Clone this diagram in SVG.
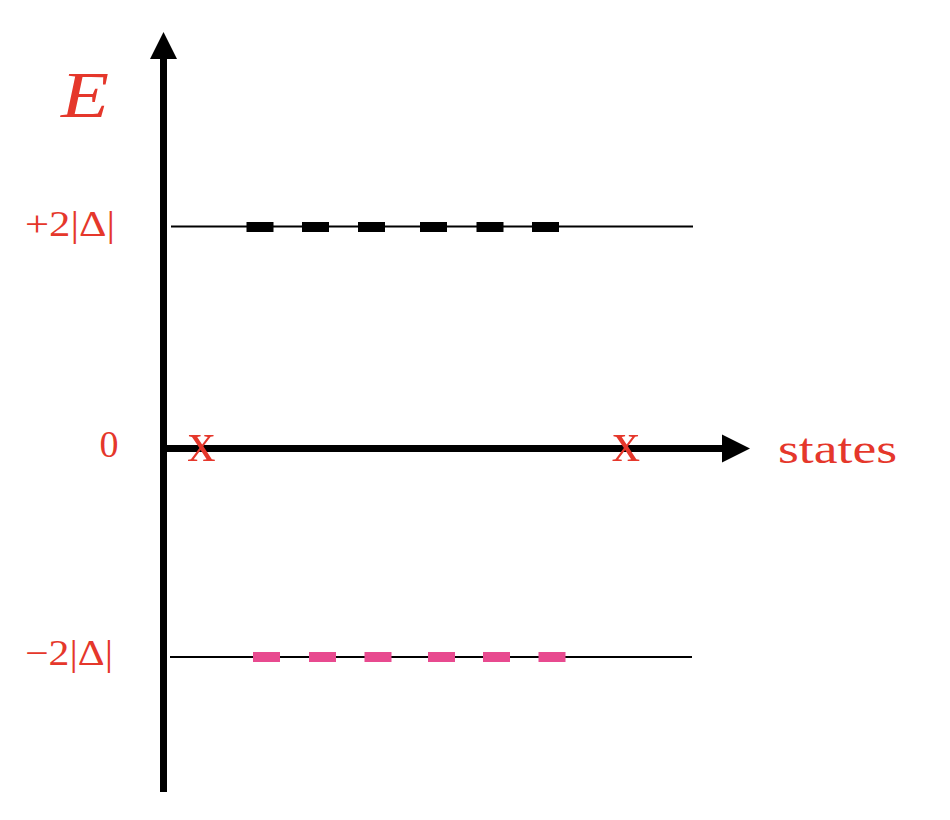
<svg xmlns="http://www.w3.org/2000/svg" width="950" height="820" viewBox="0 0 950 820">
  <style>
    .lbl { fill: #E5372B; font-family: "Liberation Serif", "DejaVu Serif", serif; }
    .axis { stroke: #000; stroke-width: 7; fill: none; }
    .level { stroke: #000; stroke-width: 2; fill: none; }
    .up { fill: #000; }
    .dn { fill: #E84A8F; }
  </style>
  <rect width="950" height="820" fill="#fff"/>
  <g id="connectors">
    <line class="axis" x1="163.5" y1="792" x2="163.5" y2="57"/>
    <polygon points="163.5,32 150,59 177,59" fill="#000"/>
    <line class="axis" x1="163" y1="448.5" x2="724" y2="448.5"/>
    <polygon points="750,448.5 722,434.5 722,462.5" fill="#000"/>
  </g>
  <g id="level-plus">
    <line class="level" x1="171" y1="226.5" x2="693" y2="226.5"/>
    <rect class="up" x="246.5" y="222" width="27" height="10"/>
    <rect class="up" x="302" y="222" width="27" height="10"/>
    <rect class="up" x="358" y="222" width="27" height="10"/>
    <rect class="up" x="420" y="222" width="27" height="10"/>
    <rect class="up" x="476.5" y="222" width="27" height="10"/>
    <rect class="up" x="532" y="222" width="27" height="10"/>
  </g>
  <g id="level-minus">
    <line class="level" x1="170" y1="657" x2="692" y2="657"/>
    <rect class="dn" x="253" y="652" width="27" height="10"/>
    <rect class="dn" x="309" y="652" width="27" height="10"/>
    <rect class="dn" x="364.5" y="652" width="27" height="10"/>
    <rect class="dn" x="428" y="652" width="27" height="10"/>
    <rect class="dn" x="483" y="652" width="27" height="10"/>
    <rect class="dn" x="538.5" y="652" width="27" height="10"/>
  </g>
  <g id="labels">
    <text class="lbl" x="61" y="117" font-size="66" font-style="italic" textLength="48" lengthAdjust="spacingAndGlyphs">E</text>
    <text class="lbl" x="25" y="236" font-size="36" textLength="90" lengthAdjust="spacingAndGlyphs">+2|Δ|</text>
    <text class="lbl" x="109" y="457" font-size="38" text-anchor="middle">0</text>
    <text class="lbl" x="25" y="665" font-size="36" textLength="88" lengthAdjust="spacingAndGlyphs">−2|Δ|</text>
    <text class="lbl" x="778" y="463" font-size="42" textLength="119" lengthAdjust="spacingAndGlyphs">states</text>
  </g>
  <g id="markers">
    <text class="lbl" x="201.5" y="461" font-size="56" text-anchor="middle">x</text>
    <text class="lbl" x="626" y="461" font-size="56" text-anchor="middle">x</text>
  </g>
</svg>
